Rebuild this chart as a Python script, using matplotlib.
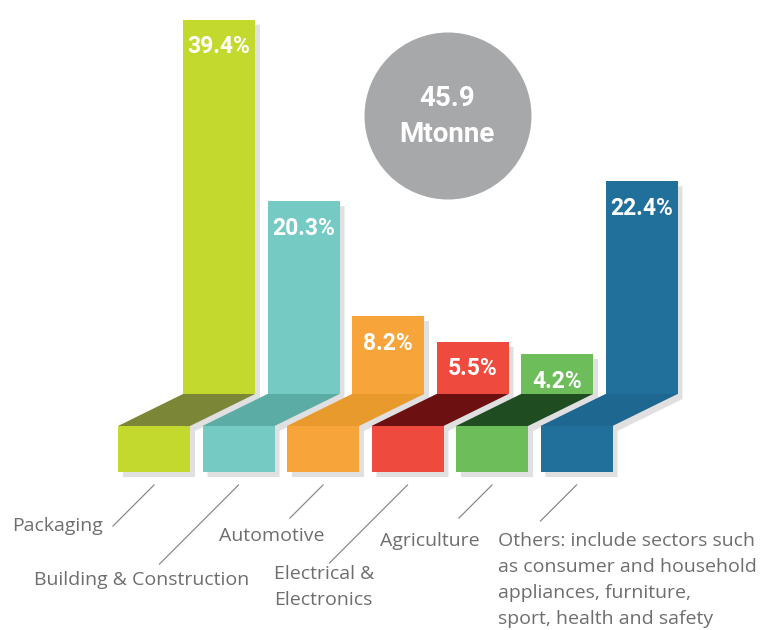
import matplotlib.pyplot as plt
from matplotlib.patches import Polygon, Rectangle, Circle

# data
sectors = ['Packaging', 'Building & Construction', 'Automotive',
           'Electrical &\nElectronics', 'Agriculture',
           'Others: include sectors such\nas consumer and household\nappliances, furniture,\nsport, health and safety']
shares = [39.4, 20.3, 8.2, 5.5, 4.2, 22.4]
total_mt = 45.9

face_cols = ['#c4d92e', '#76cac4', '#f7a43b', '#ee4a3e', '#6dbe5a', '#21709b']
fold_cols = ['#7b8636', '#5aaca5', '#e99a2c', '#6c1012', '#1f4d21', '#1e6790']

# pixel scale of the drawing
W, H = 761, 630
PX = 84.5   # px per category
PY = 9.5    # px per percent
X0 = 219    # px of first back bar centre
Y0 = 394    # px of shelf line (y = 0)

fig = plt.figure(figsize=(W / 100, H / 100), dpi=100)
ax = fig.add_axes([0, 0, 1, 1])
ax.set_xlim(-X0 / PX, (W - X0) / PX)
ax.set_ylim(-(H - Y0) / PY, Y0 / PY)
ax.axis('off')

bw = 72 / PX          # bar width
fdx = -65 / PX        # fold shift to the left
fdy = 32 / PY         # fold depth
fh = 46 / PY          # front block height
sx, sy = 5 / PX, 5 / PY   # shadow offset


def outline(i, v, ox=0.0, oy=0.0):
    x0 = i - bw / 2 + ox
    return [(x0, v + oy), (x0 + bw, v + oy), (x0 + bw, oy),
            (x0 + bw + fdx, -fdy + oy), (x0 + bw + fdx, -fdy - fh + oy),
            (x0 + fdx, -fdy - fh + oy), (x0 + fdx, -fdy + oy), (x0, oy)]


# shadows first
for i, v in enumerate(shares):
    ax.add_patch(Polygon(outline(i, v, sx, -sy), closed=True, fc='#e0e0e0', ec='none'))

for i, v in enumerate(shares):
    x0 = i - bw / 2
    ax.add_patch(Rectangle((x0, 0), bw, v, fc=face_cols[i], ec='none'))
    ax.add_patch(Polygon([(x0, 0), (x0 + bw, 0), (x0 + bw + fdx, -fdy), (x0 + fdx, -fdy)],
                         closed=True, fc=fold_cols[i], ec='none'))
    ax.add_patch(Rectangle((x0 + fdx, -fdy - fh), bw, fh, fc=face_cols[i], ec='none'))
    ax.text(i, v - 27 / PY, f'{v}%', ha='center', va='center', color='white',
            fontsize=16.5, fontweight='bold', family='Roboto')

# leader lines (length in px along 45 degrees)
lead_len = [41, 79, 33, 78, 33, 36]
lead_gap = 13 / PY
for i, L in enumerate(lead_len):
    xs = i + fdx + 0.0
    ys = -fdy - fh - lead_gap
    ax.plot([xs, xs - L / PX], [ys, ys - L / PY], color='#8a8a8a', lw=0.9)

# overlay in pixel units for circle and labels
ov = fig.add_axes([0, 0, 1, 1])
ov.set_xlim(0, W)
ov.set_ylim(H, 0)
ov.axis('off')
ov.patch.set_alpha(0)

ov.add_patch(Circle((448, 116), 83.5, fc='#a7a8aa', ec='none'))
ov.text(447, 98, f'{total_mt}', ha='center', va='center', color='white',
        fontsize=20, fontweight='bold', family='Roboto')
ov.text(447, 135, 'Mtonne', ha='center', va='center', color='white',
        fontsize=20, fontweight='bold', family='Roboto')

lab_pos = [(103, 526, 'right'), (34, 580, 'left'), (219, 536, 'left'),
           (274, 587, 'left'), (380, 541, 'left'), (498, 580, 'left')]
for name, (x, y, ha) in zip(sectors, lab_pos):
    ov.text(x, y, name, ha=ha, va='center', color='#6d6e70', fontsize=14,
            family='Open Sans', linespacing=1.55)

fig.savefig('out.png', dpi=100)
